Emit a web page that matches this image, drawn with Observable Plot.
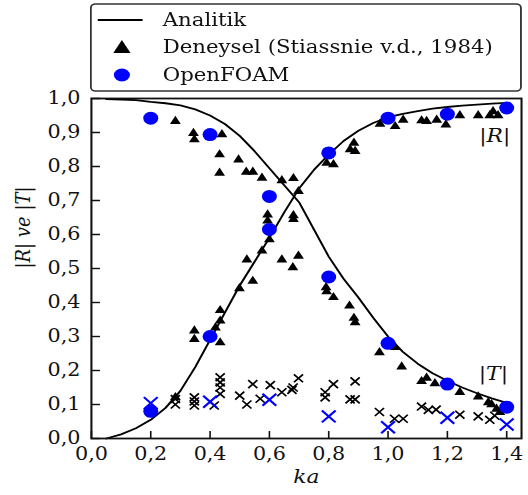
<!DOCTYPE html>
<html>
<head>
<meta charset="utf-8">
<script src="https://cdn.jsdelivr.net/npm/d3@7"></script>
<script src="https://cdn.jsdelivr.net/npm/@observablehq/plot@0.6"></script>
<style>
  html, body { margin: 0; padding: 0; background: #fff; overflow: hidden; }
  #fig { position: relative; width: 459px; transform: scaleX(1.15); transform-origin: 0 0; }
  #legend { position: absolute; left: 0; top: 0; z-index: 2; display: block; font-family: "DejaVu Serif", "DejaVuSerif", "Liberation Serif", serif; }
  #chart { padding-top: 80px; }
  #chart svg { display: block; }
</style>
</head>
<body>
<div id="fig">
  <svg id="legend" width="459" height="92" font-size="18.5">
    <rect x="79" y="4" width="374" height="87" rx="4" ry="4" fill="#fff" stroke="#333" stroke-width="1.6"></rect>
    <line x1="85" x2="124" y1="20" y2="20" stroke="#000" stroke-width="2.2"></line>
    <text x="141.5" y="20" dy="0.35em" fill="#111">Analitik</text>
    <path d="M106,40 L113.5,53 L98.5,53 Z" fill="#000"></path>
    <text x="141.5" y="47" dy="0.35em" fill="#111">Deneysel (Stiassnie v.d., 1984)</text>
    <ellipse cx="106" cy="75" rx="7" ry="6.5" fill="#0000ff"></ellipse>
    <text x="141.5" y="75" dy="0.35em" fill="#111">OpenFOAM</text>
  </svg>
  <div id="chart"></div>
</div>
<script>
// ---- data ----
const xTicks = [0, 0.2, 0.4, 0.6, 0.8, 1.0, 1.2, 1.4];
const yTicks = [0, 0.1, 0.2, 0.3, 0.4, 0.5, 0.6, 0.7, 0.8, 0.9, 1.0];

// Analytic curves
const analyticKa = [0.05, 0.1, 0.15, 0.2, 0.25, 0.3, 0.35, 0.4, 0.45, 0.5, 0.55, 0.6, 0.65, 0.7,
  0.75, 0.8, 0.85, 0.9, 0.95, 1.0, 1.05, 1.1, 1.15, 1.2, 1.25, 1.3, 1.35, 1.4];
const analyticR = [0.0, 0.012, 0.03, 0.055, 0.09, 0.14, 0.21, 0.29, 0.37, 0.45, 0.52, 0.59, 0.665, 0.735,
  0.79, 0.835, 0.875, 0.905, 0.928, 0.945, 0.955, 0.963, 0.97, 0.975, 0.979, 0.982, 0.985, 0.987];
const analyticT = [0.998, 0.997, 0.995, 0.99, 0.986, 0.98, 0.968, 0.95, 0.925, 0.89, 0.845, 0.795, 0.745, 0.695,
  0.615, 0.535, 0.47, 0.415, 0.355, 0.3, 0.255, 0.22, 0.192, 0.17, 0.15, 0.133, 0.118, 0.105];

// Experimental (Stiassnie et al., 1984) triangles
const expKa = [0.283, 0.344, 0.347, 0.44, 0.432, 0.432, 0.496, 0.522, 0.544, 0.575, 0.642, 0.681, 0.698,
  0.594, 0.594, 0.681, 0.681, 0.600, 0.575, 0.524, 0.642, 0.698, 0.679, 0.544, 0.499, 0.434, 0.434,
  0.418, 0.347, 0.347, 0.434, 0.283, 0.791, 0.793, 0.816, 0.87, 0.885, 0.889, 0.971, 1.024, 1.046,
  1.113, 1.13, 1.158, 1.242, 1.304, 1.338, 1.349, 1.366, 1.377,
  0.793, 0.816, 0.872, 0.885, 0.889, 0.973, 1.024, 1.051, 1.113, 1.13, 1.164, 1.195, 1.242, 1.304,
  1.343, 1.354, 1.371];
const expVal = [0.933, 0.898, 0.879, 0.894, 0.835, 0.781, 0.82, 0.784, 0.784, 0.766, 0.759, 0.765, 0.727,
  0.658, 0.640, 0.656, 0.645, 0.585, 0.552, 0.526, 0.526, 0.537, 0.503, 0.463, 0.441, 0.377, 0.346,
  0.326, 0.317, 0.292, 0.282, 0.121, 0.444, 0.432, 0.415, 0.39, 0.354, 0.341, 0.253, 0.268, 0.211,
  0.168, 0.178, 0.162, 0.136, 0.123, 0.106, 0.100, 0.087, 0.077,
  0.81, 0.806, 0.85, 0.869, 0.845, 0.925, 0.918, 0.937, 0.935, 0.933, 0.937, 0.923, 0.95, 0.95,
  0.95, 0.962, 0.95];

// Experimental small black crosses
const crossKa = [0.283, 0.283, 0.347, 0.347, 0.347, 0.414, 0.434, 0.434, 0.434, 0.434, 0.500, 0.524,
  0.544, 0.569, 0.603, 0.642, 0.676, 0.680, 0.698, 0.788, 0.788, 0.816, 0.872, 0.889, 0.889, 0.971,
  1.022, 1.051, 1.113, 1.136, 1.162, 1.242, 1.304, 1.343, 1.36];
const crossVal = [0.116, 0.100, 0.121, 0.109, 0.097, 0.097, 0.180, 0.165, 0.150, 0.131, 0.126, 0.100,
  0.160, 0.117, 0.157, 0.136, 0.143, 0.150, 0.177, 0.136, 0.121, 0.160, 0.115, 0.115, 0.168, 0.078,
  0.058, 0.058, 0.094, 0.084, 0.085, 0.070, 0.065, 0.055, 0.067];

// OpenFOAM
const foamKa = [0.2, 0.4, 0.6, 0.8, 1.0, 1.2, 1.4];
const foamR = [0.08, 0.30, 0.615, 0.84, 0.942, 0.954, 0.972];
const foamT = [0.942, 0.894, 0.712, 0.475, 0.28, 0.16, 0.092];
const foamCross = [0.104, 0.108, 0.114, 0.065, 0.033, 0.061, 0.041];

// Curve annotations
const annLabels = ["|R|", "|T|"];
const annKa = [1.36, 1.355];
const annVal = [0.89, 0.19];

// ---- build ----
const FONT = '"DejaVu Serif", "DejaVuSerif", "Liberation Serif", serif';
const fmt = d => d.toFixed(1).replace(".", ",");
const analytic = analyticKa.map((k, i) => ({ka: k, r: analyticR[i], t: analyticT[i]}));
const exp = expKa.map((k, i) => ({ka: k, v: expVal[i]}));
const crosses = crossKa.map((k, i) => ({ka: k, v: crossVal[i]}));
const foam = foamKa.map((k, i) => ({ka: k, r: foamR[i], t: foamT[i], c: foamCross[i]}));
const ann = annLabels.map((l, i) => ({label: l, ka: annKa[i], v: annVal[i]}));

const W = 459, H = 415, mL = 79, mR = 6, mT = 18, mB = 57;
const innerW = W - mL - mR, innerH = H - mT - mB;

const chart = Plot.plot({
  width: W, height: H,
  marginLeft: mL, marginRight: mR, marginTop: mT, marginBottom: mB,
  style: {fontFamily: FONT, fontSize: "18px", color: "#111", background: "#fff"},
  x: {domain: [0, 1.45]},
  y: {domain: [0, 1]},
  marks: [
    Plot.axisX(xTicks, {tickSize: 0, tickPadding: 9, tickFormat: fmt, label: null, fontSize: 18}),
    Plot.axisY(yTicks, {tickSize: 0, tickPadding: 9.5, tickFormat: fmt, label: null, fontSize: 18}),
    Plot.tickX(xTicks, {x: d => d, insetTop: innerH - 7, stroke: "#111", strokeWidth: 1.4}),
    Plot.tickY(yTicks, {y: d => d, insetRight: innerW - 8, stroke: "#111", strokeWidth: 1.4}),
    Plot.line(analytic, {x: "ka", y: "r", stroke: "#000", strokeWidth: 1.8}),
    Plot.line(analytic, {x: "ka", y: "t", stroke: "#000", strokeWidth: 1.8}),
    Plot.dot(exp, {x: "ka", y: "v", symbol: "triangle", r: 3.5, fill: "#000", stroke: "none"}),
    Plot.dot(crosses, {x: "ka", y: "v", symbol: "times", r: 3.7, stroke: "#000", strokeWidth: 1.6}),
    Plot.dot(foam, {x: "ka", y: "r", r: 6.5, fill: "#0000ff", stroke: "none"}),
    Plot.dot(foam, {x: "ka", y: "t", r: 6.5, fill: "#0000ff", stroke: "none"}),
    Plot.dot(foam, {x: "ka", y: "c", symbol: "times", r: 5.5, stroke: "#0000ff", strokeWidth: 2}),
    Plot.text(ann, {x: "ka", y: "v", text: "label", fontStyle: "italic", fontSize: 19, fill: "#111"}),
    Plot.text(["ka"], {frameAnchor: "bottom", dy: 44, fontStyle: "italic", fontSize: 19, fill: "#111"}),
    Plot.text(["|R| ve |T|"], {frameAnchor: "left", dx: -59, rotate: -90, fontStyle: "italic", fontSize: 18, fill: "#111"}),
    Plot.frame({stroke: "#111", strokeWidth: 1.8})
  ]
});
document.getElementById("chart").appendChild(chart);
</script>
</body>
</html>
